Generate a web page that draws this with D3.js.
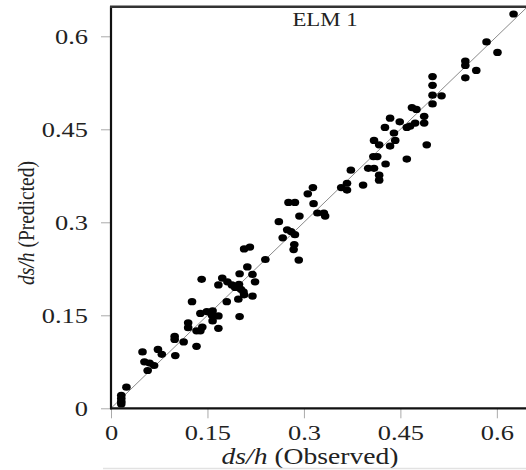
<!DOCTYPE html>
<html>
<head>
<meta charset="utf-8">
<script src="https://cdn.jsdelivr.net/npm/d3@7"></script>
<style>
  body { margin: 0; background: #fff; }
  text { font-family: "Liberation Serif", "Times New Roman", serif; fill: #222; }
</style>
</head>
<body>
<script>
// ds/h observed vs predicted
const observed = [
  0.626, 0.584, 0.601, 0.551, 0.551, 0.568, 0.551, 0.500, 0.500, 0.500,
  0.514, 0.500, 0.487, 0.468, 0.475, 0.487, 0.473, 0.465, 0.460, 0.491,
  0.434, 0.449, 0.426, 0.440, 0.442, 0.434, 0.409, 0.417, 0.460, 0.408,
  0.414, 0.427, 0.400, 0.409, 0.417, 0.417, 0.373, 0.358, 0.367, 0.367,
  0.392, 0.314, 0.306, 0.276, 0.286, 0.315, 0.321, 0.331, 0.333, 0.293,
  0.261, 0.274, 0.280, 0.286, 0.267, 0.285, 0.284, 0.292, 0.240, 0.207,
  0.216, 0.212, 0.200, 0.220, 0.224, 0.173, 0.181, 0.188, 0.141, 0.167,
  0.199, 0.193, 0.202, 0.206, 0.207, 0.220, 0.198, 0.180, 0.126, 0.200,
  0.139, 0.149, 0.158, 0.157, 0.167, 0.158, 0.167, 0.120, 0.120, 0.133,
  0.139, 0.142, 0.133, 0.099, 0.099, 0.113, 0.100, 0.049, 0.073, 0.079,
  0.052, 0.060, 0.067, 0.057, 0.024, 0.016, 0.016, 0.016, 0.016
];
const predicted = [
  0.636, 0.591, 0.574, 0.560, 0.553, 0.545, 0.533, 0.535, 0.521, 0.505,
  0.504, 0.491, 0.471, 0.485, 0.482, 0.460, 0.460, 0.455, 0.453, 0.425,
  0.468, 0.462, 0.453, 0.444, 0.432, 0.423, 0.432, 0.425, 0.402, 0.406,
  0.406, 0.394, 0.387, 0.387, 0.376, 0.368, 0.384, 0.356, 0.352, 0.363,
  0.360, 0.356, 0.346, 0.332, 0.332, 0.330, 0.315, 0.315, 0.310, 0.310,
  0.301, 0.288, 0.285, 0.280, 0.275, 0.264, 0.256, 0.239, 0.240, 0.257,
  0.260, 0.228, 0.217, 0.216, 0.204, 0.210, 0.204, 0.199, 0.208, 0.199,
  0.200, 0.195, 0.192, 0.188, 0.183, 0.181, 0.176, 0.172, 0.172, 0.148,
  0.153, 0.156, 0.157, 0.150, 0.149, 0.141, 0.129, 0.138, 0.130, 0.125,
  0.125, 0.131, 0.100, 0.116, 0.111, 0.107, 0.085, 0.091, 0.095, 0.087,
  0.075, 0.073, 0.069, 0.061, 0.034, 0.021, 0.016, 0.011, 0.007
];
const tickValues = [0, 0.15, 0.3, 0.45, 0.6];
const axisMax = 0.65;
const chartTitle = "ELM 1";

const width = 526, height = 470;
const stretch = 1.2; // the original figure is widened a bit

const x = d3.scaleLinear().domain([0, axisMax]).range([111, 529]);
const y = d3.scaleLinear().domain([0, axisMax]).range([408.3, 5.3]);

const svg = d3.select("body").append("svg")
  .attr("width", width).attr("height", height);

// 1:1 line
svg.append("line")
  .attr("x1", x(0)).attr("y1", y(0))
  .attr("x2", x(axisMax)).attr("y2", y(axisMax))
  .attr("stroke", "#8a8a8a").attr("stroke-width", 1);

// points
svg.append("g").selectAll("ellipse")
  .data(observed.map((d, i) => [d, predicted[i]]))
  .join("ellipse")
  .attr("cx", d => x(d[0]))
  .attr("cy", d => y(d[1]))
  .attr("rx", 4.3).attr("ry", 3.6)
  .attr("fill", "#000");

// axes
const fmt = d => d === 0 ? "0" : String(d);

const gy = svg.append("g")
  .attr("transform", `translate(${x(0)},0)`)
  .call(d3.axisLeft(y).tickValues(tickValues).tickSize(10).tickPadding(13).tickFormat(fmt));

const gx = svg.append("g")
  .attr("transform", `translate(0,${y(0)})`)
  .call(d3.axisBottom(x).tickValues(tickValues).tickSize(10).tickPadding(6).tickFormat(fmt));

[gx, gy].forEach(g => {
  g.select(".domain").remove();
  g.selectAll(".tick line").attr("stroke", "#aaa");
  g.selectAll(".tick text")
    .attr("font-family", "Liberation Serif, Times New Roman, serif")
    .attr("font-size", 22)
    .attr("fill", "#222");
});

gy.selectAll(".tick text")
  .attr("transform", `translate(-23,0) scale(${stretch},1)`)
  .attr("x", 0);
gx.selectAll(".tick text")
  .attr("dy", "0.71em")
  .attr("transform", `scale(${stretch},1)`);

// frame
svg.append("line")
  .attr("x1", x(0)).attr("x2", x(0)).attr("y1", y(axisMax) + 1).attr("y2", y(0) + 1)
  .attr("stroke", "#111").attr("stroke-width", 2.2);
svg.append("line")
  .attr("x1", x(0) - 1).attr("x2", x(axisMax)).attr("y1", y(0)).attr("y2", y(0))
  .attr("stroke", "#111").attr("stroke-width", 2.2);
svg.append("line")
  .attr("x1", x(0) - 1).attr("x2", x(axisMax)).attr("y1", y(axisMax) + 1.5).attr("y2", y(axisMax) + 1.5)
  .attr("stroke", "#333").attr("stroke-width", 2.6);

// title inside the plot
svg.append("text")
  .attr("transform", `translate(325,26) scale(${stretch},1)`)
  .attr("text-anchor", "middle")
  .attr("font-size", 19)
  .text(chartTitle);

// axis titles
const xTitle = svg.append("text")
  .attr("transform", `translate(310,464) scale(${stretch},1)`)
  .attr("text-anchor", "middle")
  .attr("font-size", 23);
xTitle.append("tspan").attr("font-style", "italic").text("ds/h");
xTitle.append("tspan").text(" (Observed)");

const yTitle = svg.append("text")
  .attr("transform", `translate(34,223) rotate(-90) scale(1,${stretch})`)
  .attr("text-anchor", "middle")
  .attr("font-size", 19.5);
yTitle.append("tspan").attr("font-style", "italic").text("ds/h");
yTitle.append("tspan").text(" (Predicted)");

// faint rule along the bottom of the scan
svg.append("line")
  .attr("x1", 103).attr("x2", width).attr("y1", 468.5).attr("y2", 468.5)
  .attr("stroke", "#e2e2e2").attr("stroke-width", 1.5);
</script>
</body>
</html>
